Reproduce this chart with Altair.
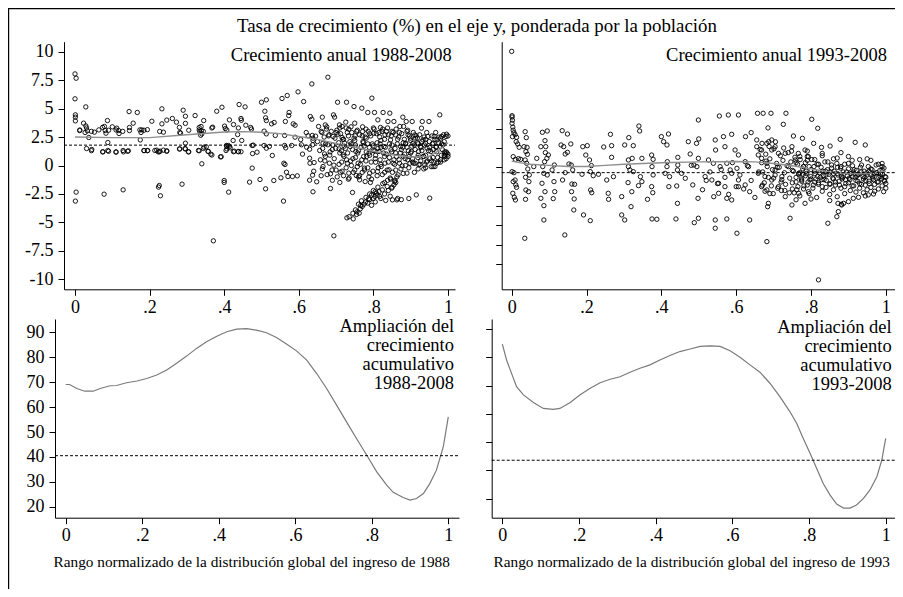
import altair as alt
import pandas as pd

FONT = "Liberation Serif"
W, H = 887, 581

main_title = "Tasa de crecimiento (%) en el eje y, ponderada por la población"
tl_title = "Crecimiento anual 1988-2008"
tr_title = "Crecimiento anual 1993-2008"
bl_title = ["Ampliación del", "crecimiento", "acumulativo", "1988-2008"]
br_title = ["Ampliación del", "crecimiento", "acumulativo", "1993-2008"]
bl_xtitle = "Rango normalizado de la distribución global del ingreso de 1988"
br_xtitle = "Rango normalizado de la distribución global del ingreso de 1993"

x_ticks = [0, 0.2, 0.4, 0.6, 0.8, 1]
top_y_ticks = [-10, -7.5, -5, -2.5, 0, 2.5, 5, 7.5, 10]
bl_y_ticks = [20, 30, 40, 50, 60, 70, 80, 90]
br_y_ticks = [30, 40, 50, 60, 70, 80, 90]

# mean (dashed) lines
tl_mean = 1.79
tr_mean = 1.81
bl_mean = 40.5
br_mean = 43.6

# ---- annual growth 1988-2008 (x = rank, y = growth %) ----
tl_points = [
    (0.0, 8.05), (0.003, 7.67), (0.0, 5.86), (0.001, 4.45), (0.001, 4.25), (0.001, 3.92), (0.003, -2.34), (0.001, -3.13),
    (0.0125, 3.07), (0.029, 5.15), (0.023, 3.72), (0.029, 3.48), (0.027, 2.9), (0.033, 3.05), (0.037, 2.46), (0.031, 1.49),
    (0.045, 1.41), (0.052, 2.93), (0.064, 3.13), (0.079, 3.43), (0.081, 3.07), (0.083, 2.84), (0.087, 3.95), (0.088, 2.02),
    (0.088, 1.32), (0.075, 1.2), (0.078, -2.52), (0.1, 3.4), (0.112, 3.28), (0.117, 3.07), (0.118, 2.81), (0.11, 1.17),
    (0.129, 1.32), (0.13, 1.2), (0.143, 1.29), (0.129, -2.14), (0.145, 4.74), (0.146, 3.34), (0.146, 3.07), (0.156, 3.72),
    (0.167, 4.66), (0.174, 3.13), (0.177, 2.9), (0.179, 3.13), (0.175, 2.25), (0.185, 1.32), (0.195, 1.32), (0.206, 3.89),
    (0.214, 1.32), (0.223, 1.2), (0.226, -1.76), (0.224, -1.9), (0.229, -2.66), (0.233, 4.98), (0.233, 3.66), (0.227, 2.99),
    (0.237, 2.93), (0.228, 1.26), (0.237, 1.35), (0.246, 1.29), (0.261, 4.13), (0.272, 3.81), (0.281, 2.9), (0.283, 2.84),
    (0.29, 4.86), (0.296, 4.33), (0.296, 1.96), (0.281, 1.46), (0.295, 1.49), (0.304, 1.2), (0.287, -1.64), (0.322, 4.39),
    (0.333, 3.34), (0.338, 3.43), (0.335, 2.96), (0.339, 3.05), (0.34, 2.78), (0.337, 2.66), (0.345, 3.95), (0.346, 1.61),
    (0.352, 1.64), (0.331, 1.32), (0.34, 0.15), (0.357, 1.23), (0.364, 1.0), (0.371, -6.62), (0.369, 3.37), (0.38, 4.77),
    (0.394, 5.12), (0.39, 0.76),
    (0.401, 3.46), (0.403, 3.25), (0.414, 4.01), (0.406, 1.76), (0.411, 1.76), (0.407, 1.46), (0.414, 1.67), (0.405, 1.32),
    (0.4, -1.32), (0.4, -1.49), (0.412, -2.34), (0.424, 2.2), (0.427, 1.26), (0.436, 2.72), (0.438, 1.23), (0.44, 5.36),
    (0.445, 4.13), (0.446, 3.98), (0.447, 2.2), (0.456, 5.15), (0.458, 3.54), (0.468, -1.46), (0.471, 3.34), (0.475, 1.76),
    (0.476, 1.05), (0.475, -0.23), (0.478, 1.79), (0.488, 1.17), (0.496, -1.23), (0.5, 5.56), (0.509, 4.77), (0.513, 5.77),
    (0.511, 4.19), (0.513, 3.95), (0.507, 3.02), (0.513, 2.78), (0.507, 1.76), (0.513, 1.52), (0.511, -2.05), (0.521, 1.67),
    (0.527, 3.66), (0.534, 3.78), (0.537, 2.64), (0.529, 0.88), (0.533, -1.32), (0.552, -1.08), (0.555, 5.89), (0.564, 3.87),
    (0.569, 6.15), (0.574, 4.66), (0.573, 4.39), (0.562, 2.64), (0.562, 1.76), (0.565, 1.55), (0.56, 0.2), (0.563, 0.09),
    (0.559, -3.13), (0.567, -0.59), (0.571, -0.97), (0.583, -0.97), (0.581, 1.76), (0.585, 3.66), (0.59, 3.54), (0.59, 2.49),
    (0.596, -0.91), (0.598, 6.47),
    (0.607, 1.82), (0.605, 2.28), (0.613, 5.62), (0.621, 1.61), (0.625, 2.61), (0.629, 1.43), (0.629, 0.64), (0.631, 4.3),
    (0.635, 4.07), (0.635, 7.17), (0.636, 2.64), (0.638, 2.4), (0.638, 2.2), (0.637, 1.82), (0.629, -1.29), (0.637, -0.85),
    (0.638, -2.31), (0.641, 0.26), (0.645, 2.58), (0.648, -1.43), (0.653, 3.43), (0.656, 1.32), (0.663, 4.25), (0.665, 1.96),
    (0.665, -0.09), (0.669, 1.02), (0.671, 3.57), (0.678, 7.76), (0.678, 1.82), (0.683, 0.91), (0.685, -0.73), (0.685, -2.02),
    (0.692, 2.55), (0.693, 4.45), (0.696, 4.25), (0.694, 0.03), (0.694, -6.18), (0.704, 5.56), (0.705, 2.75), (0.708, 1.46),
    (0.709, 3.57), (0.711, -0.59), (0.71, -1.49), (0.716, 3.43), (0.716, 2.46), (0.719, 0.94), (0.723, 1.96), (0.726, 3.81),
    (0.728, 5.56), (0.728, 0.5), (0.729, -4.6), (0.734, -0.67), (0.734, 3.19), (0.738, 1.67), (0.741, 0.0), (0.744, -2.37),
    (0.746, -4.69), (0.748, 5.18), (0.75, 3.72), (0.751, 2.61), (0.753, 1.23), (0.754, -0.88), (0.756, -4.07), (0.762, -4.19),
    (0.759, 0.2), (0.763, -1.26), (0.766, -3.51), (0.769, 5.04), (0.771, 2.99), (0.772, 2.11), (0.774, 0.79), (0.776, -0.23),
    (0.778, -1.41), (0.779, -3.22), (0.781, 2.4), (0.785, 4.66), (0.787, -2.93), (0.788, 1.08), (0.79, -0.67), (0.792, -1.49),
    (0.796, 5.92), (0.799, 1.73), (0.801, 2.84), (0.803, 4.66), (0.804, -2.72), (0.806, 0.29), (0.808, -2.43), (0.811, -0.53),
    (0.812, 4.01), (0.815, 1.23), (0.817, -2.72), (0.819, 3.34), (0.82, 2.2), (0.821, -0.09), (0.824, -2.14), (0.826, 4.66),
    (0.828, 1.67), (0.83, 0.79), (0.833, -3.07), (0.835, 2.99), (0.837, -1.84), (0.839, 3.87), (0.842, -0.38), (0.844, 4.6),
    (0.846, 2.25), (0.847, 1.38), (0.849, -1.99), (0.851, -3.02), (0.853, 0.2), (0.855, 3.87), (0.857, -1.41), (0.86, 2.69),
    (0.862, 0.79), (0.863, -3.02), (0.866, -0.82), (0.871, 3.43), (0.873, 1.67), (0.877, -0.03), (0.879, 4.25), (0.881, 3.43),
    (0.884, 1.0), (0.887, 1.96), (0.888, 3.87), (0.89, -0.67), (0.893, 2.69), (0.896, 0.79), (0.899, 2.4), (0.902, 1.23),
    (0.904, 3.87), (0.906, 1.96), (0.908, 0.2), (0.911, 2.69), (0.915, -2.58), (0.918, 2.4), (0.921, 1.23), (0.922, 0.06),
    (0.926, 1.67), (0.929, 3.28), (0.931, 3.87), (0.933, 2.25), (0.935, 0.79), (0.938, 0.06), (0.94, 1.96), (0.944, 1.52),
    (0.946, 2.55), (0.949, 3.87), (0.951, -2.87), (0.954, 1.23), (0.956, 0.41), (0.96, 1.96), (0.963, 2.55), (0.965, -0.09),
    (0.969, 1.67), (0.971, 2.25), (0.974, 0.29), (0.978, 4.45), (0.98, 1.67), (0.983, 2.55), (0.987, 1.82), (0.991, 0.79),
    (0.993, 1.02), (0.995, 2.55), (0.996, 2.75),
]
tl_points_extra = [
    (0.044, 1.3), (0.074, 1.2), (0.09, 1.25), (0.11, 1.2), (0.141, 1.25), (0.185, 1.3), (0.194, 1.3), (0.219, 1.35),
    (0.226, 1.2), (0.246, 1.25), (0.28, 1.45), (0.296, 1.45), (0.305, 1.2), (0.333, 1.3), (0.344, 1.5), (0.357, 1.25),
    (0.367, 0.92), (0.392, 0.77), (0.407, 1.7), (0.416, 1.55), (0.425, 1.21), (0.438, 1.21), (0.445, 1.21),
    (0.013, 3.12), (0.031, 3.3), (0.044, 3.0), (0.074, 3.35), (0.09, 3.1), (0.11, 3.12), (0.128, 3.0), (0.185, 3.1),
    (0.194, 3.15), (0.246, 3.99), (0.28, 3.35), (0.296, 3.7), (0.305, 3.1), (0.333, 3.12), (0.344, 3.0), (0.367, 3.3),
    (0.407, 3.12), (0.425, 3.6), (0.438, 3.3), (0.473, 3.2),
    (0.70, 2.9), (0.70, -0.4), (0.71, 1.1), (0.71, 3.3), (0.715, 0.3), (0.72, 2.3), (0.72, -0.9), (0.725, 1.5),
    (0.73, 0.2), (0.73, 2.9), (0.735, -1.1), (0.74, 1.9), (0.74, 3.4), (0.745, 0.6), (0.75, -0.4), (0.75, 2.2),
    (0.755, 3.0), (0.76, 1.3), (0.76, -1.0), (0.765, 0.1), (0.77, 2.6), (0.77, -0.6), (0.775, 1.7), (0.78, 3.2),
    (0.78, 0.4), (0.785, -0.2), (0.785, 1.9), (0.79, 2.8), (0.79, 0.9), (0.795, -1.2), (0.80, 1.3), (0.80, 3.3),
    (0.805, 0.6), (0.81, 2.0), (0.81, -0.9), (0.815, 2.9), (0.82, 0.1), (0.82, 1.6), (0.825, 3.2), (0.83, -0.6),
    (0.83, 2.3), (0.835, 1.0), (0.84, 0.3), (0.84, 2.7), (0.845, -1.1), (0.85, 1.8), (0.85, 3.0), (0.855, 0.5),
    (0.86, 1.1), (0.86, -0.4), (0.865, 2.3), (0.87, 0.2), (0.87, 2.9), (0.875, 1.4), (0.88, -0.7), (0.88, 2.0),
    (0.885, 0.6), (0.89, 1.6), (0.89, 3.0), (0.895, -0.2), (0.90, 1.1), (0.90, 2.2), (0.905, 0.3), (0.91, 1.8),
    (0.91, -0.6), (0.915, 2.6), (0.92, 0.9), (0.92, 1.9), (0.925, 0.1), (0.93, 1.3), (0.93, 2.1), (0.935, -0.3),
    (0.94, 0.9), (0.94, 2.3), (0.945, 0.4), (0.95, 1.6), (0.95, 2.1), (0.955, -0.1), (0.96, 0.7), (0.96, 1.4),
    (0.965, 2.3), (0.97, 0.2), (0.97, 1.2), (0.975, 2.0), (0.98, 0.5), (0.98, 2.4), (0.985, 1.4), (0.99, 0.9),
    (0.99, 2.1), (0.995, 1.2), (0.995, 0.6), (1.0, 1.0), (1.0, 2.6),
    (0.61, 1.0), (0.62, 2.9), (0.64, -0.5), (0.65, 2.1), (0.66, 3.0), (0.67, 0.4), (0.68, 2.6), (0.69, 1.4),
    (0.69, -1.3), (0.66, -0.9), (0.63, 0.2), (0.675, 3.4),
    (0.755, -4.3), (0.765, -3.8), (0.77, -3.6), (0.775, -3.4), (0.785, -3.3), (0.79, -3.0), (0.795, -3.5), (0.80, -2.9),
    (0.805, -3.2), (0.81, -2.6), (0.815, -2.3), (0.82, -2.9), (0.83, -2.5), (0.84, -2.2), (0.845, -2.7), (0.85, -1.9),
    (0.855, -1.7), (0.86, -1.5), (0.865, -2.9), (0.875, -3.0), (0.895, -2.9),
    (0.92, -0.3), (0.94, -0.2), (0.96, -0.1), (0.98, 0.3), (0.99, 0.5), (1.0, 0.8),
]
tl_points_dense = [
    (0.662, 2.9), (0.668, 2.5), (0.674, 3.2), (0.681, 2.7), (0.687, 3.0), (0.697, 2.4), (0.702, 3.1), (0.712, 2.8),
    (0.718, 2.3), (0.727, 3.3), (0.733, 2.6), (0.742, 2.9), (0.748, 2.4), (0.757, 3.1), (0.763, 2.7), (0.771, 3.4),
    (0.778, 2.5), (0.786, 3.0), (0.793, 2.6), (0.802, 3.2), (0.808, 2.8), (0.817, 2.5), (0.823, 3.0), (0.831, 2.7),
    (0.838, 3.3), (0.848, 2.6), (0.853, 2.9), (0.861, 3.2), (0.868, 2.5), (0.876, 2.8), (0.883, 2.3), (0.892, 3.1),
    (0.897, 2.6), (0.907, 2.9), (0.913, 2.4), (0.924, 2.7), (0.936, 2.5), (0.943, 2.9), (0.957, 2.6), (0.967, 2.9),
    (0.976, 2.5), (0.988, 2.7),
    (0.664, 1.5), (0.672, 1.9), (0.684, 1.2), (0.691, 1.8), (0.699, 1.5), (0.707, 2.0), (0.714, 1.3), (0.722, 1.7),
    (0.731, 1.1), (0.737, 2.1), (0.744, 1.4), (0.752, 1.8), (0.758, 1.1), (0.767, 1.6), (0.773, 2.0), (0.781, 1.2),
    (0.789, 1.6), (0.797, 1.9), (0.804, 1.3), (0.812, 1.5), (0.818, 1.9), (0.827, 1.1), (0.832, 1.6), (0.843, 1.9),
    (0.849, 1.2), (0.858, 1.5), (0.864, 1.9), (0.872, 1.1), (0.879, 1.6), (0.886, 1.9), (0.894, 1.3), (0.903, 1.7),
    (0.912, 1.4), (0.918, 2.0), (0.928, 1.6), (0.937, 1.8), (0.948, 1.3), (0.958, 1.9), (0.968, 1.6), (0.983, 1.9),
    (0.658, 0.5), (0.663, -0.3), (0.671, 0.8), (0.676, -0.8), (0.682, 0.2), (0.689, -0.4), (0.695, 0.6), (0.703, -1.0),
    (0.708, 0.1), (0.716, -0.5), (0.721, 0.8), (0.727, -0.2), (0.733, -1.2), (0.739, 0.4), (0.746, -0.6), (0.752, 0.7),
    (0.757, -0.1), (0.763, -0.9), (0.769, 0.5), (0.776, -0.4), (0.782, 0.8), (0.788, -1.0), (0.794, 0.3), (0.799, -0.5),
    (0.806, 0.9), (0.813, -0.2), (0.818, 0.5), (0.824, -0.8), (0.831, 0.2), (0.837, -0.4), (0.843, 0.7), (0.851, -0.6),
    (0.857, 0.1), (0.863, -1.0), (0.869, 0.5), (0.874, -0.3), (0.88, 0.8), (0.886, 0.0), (0.892, 0.5), (0.898, 0.2),
    (0.905, 0.6), (0.912, 0.2), (0.919, 0.7), (0.927, 0.4), (0.934, 0.8), (0.942, 0.3), (0.951, 0.6), (0.962, 0.3),
    (0.972, 0.7), (0.982, 0.9), (0.991, 1.2), (0.997, 1.1),
    (0.735, -4.5), (0.745, -4.2), (0.752, -3.9), (0.76, -3.4), (0.768, -3.1), (0.78, -2.8), (0.79, -2.5), (0.8, -2.2),
    (0.812, -1.9), (0.825, -1.6), (0.838, -1.3), (0.795, -2.6), (0.805, -2.3), (0.83, -1.5), (0.846, -1.2), (0.858, -1.3),
]

# ---- annual growth 1993-2008 ----
tr_points = [
    (0.0, 17.5), (0.001, 9.18), (0.001, 9.0), (0.002, 8.6), (0.001, 8.2), (0.003, 7.7), (0.004, 7.3), (0.006, 6.98),
    (0.002, 6.47), (0.009, 6.72), (0.013, 6.38), (0.012, 5.82), (0.016, 5.52), (0.02, 5.09), (0.004, 3.88), (0.01, 3.53),
    (0.018, 3.62), (0.024, 3.53), (0.001, 1.94), (0.006, 1.81), (0.009, 0.86), (0.004, 0.65), (0.011, 0.22), (0.013, -0.09),
    (0.003, -0.86), (0.007, -1.38), (0.01, -1.72), (0.035, -6.68), (0.036, 7.11), (0.039, 6.34), (0.033, 5.17), (0.038, 4.53),
    (0.041, 5.09), (0.042, 4.18), (0.036, 3.45), (0.04, 3.02), (0.043, 2.28), (0.047, 1.51), (0.037, 1.21), (0.046, 0.65),
    (0.038, -0.43), (0.045, -0.65), (0.037, -1.64), (0.067, 3.66), (0.059, 2.59), (0.078, 5.17), (0.082, 7.03), (0.095, 7.2),
    (0.089, 5.95), (0.091, 5.17), (0.09, 4.4), (0.094, 3.66), (0.088, 3.23), (0.083, 2.59), (0.098, 4.09), (0.086, 1.72),
    (0.095, 1.51), (0.081, 0.43), (0.089, -0.65), (0.078, -1.51), (0.086, -2.46), (0.086, -4.31), (0.114, 2.8), (0.108, 2.16),
    (0.113, 0.65), (0.115, -0.65), (0.111, -1.55), (0.135, 7.24), (0.149, 6.81), (0.132, 5.39), (0.139, 5.17), (0.149, 4.44),
    (0.158, 5.52), (0.143, 4.22), (0.153, 2.93), (0.159, 2.8), (0.163, 2.16), (0.143, 1.81), (0.136, 0.86), (0.161, 0.34),
    (0.168, 0.3), (0.16, -0.65), (0.167, -1.59), (0.166, -3.02), (0.142, -6.25), (0.19, 5.17), (0.202, 5.3), (0.198, 4.09),
    (0.208, 3.45), (0.213, 2.72), (0.21, 1.94), (0.188, 1.6), (0.218, 1.42), (0.211, -0.43), (0.214, -0.78), (0.192, -3.66),
    (0.21, -4.4), (0.232, 1.6), (0.246, 5.13), (0.264, 6.77), (0.267, 5.3), (0.267, 3.79), (0.254, 0.86), (0.258, -0.86),
    (0.259, -1.64), (0.272, 1.29), (0.294, -1.29), (0.294, -3.66), (0.302, -4.31), (0.302, 5.39), (0.313, 6.34), (0.325, 5.3),
    (0.312, 3.45), (0.322, 3.66), (0.312, 2.59), (0.316, 2.16), (0.325, 1.94), (0.311, 0.52), (0.321, -0.65), (0.319, -2.59),
    (0.34, 7.84), (0.342, 7.2), (0.348, 3.66), (0.344, 1.29), (0.348, 0.65), (0.339, 0.13), (0.363, -1.64), (0.374, 4.09),
    (0.378, 3.53), (0.375, 2.59), (0.378, 1.51), (0.374, 0.0), (0.377, -0.78), (0.375, -4.18), (0.388, -4.22), (0.4, 6.47),
    (0.406, 5.82), (0.419, 6.81), (0.415, 5.39), (0.416, 3.23), (0.415, 2.59), (0.41, 1.72), (0.422, 1.29), (0.42, 0.0),
    (0.444, 3.79), (0.443, 2.16), (0.444, 2.8), (0.441, 0.09), (0.443, -2.16), (0.439, -4.18), (0.454, 1.72), (0.464, 1.08),
    (0.472, 5.82), (0.477, 4.22), (0.48, 2.76), (0.484, 0.22), (0.487, 2.8), (0.488, -4.66), (0.498, -1.51), (0.495, 2.59),
    (0.499, 8.62), (0.494, 5.6), (0.499, 3.66),
    (0.555, 9.14), (0.579, 9.27), (0.606, 9.27), (0.657, 9.49), (0.672, 9.49), (0.693, 9.49), (0.733, 9.49), (0.726, 8.06),
    (0.802, 8.71), (0.818, 7.55), (0.685, 7.6), (0.5, 6.17), (0.544, 6.04), (0.566, 6.47), (0.588, 6.77), (0.625, 6.47),
    (0.64, 6.99), (0.655, 6.04), (0.687, 5.82), (0.695, 6.04), (0.753, 6.55), (0.777, 6.25), (0.807, 5.6), (0.828, 5.08),
    (0.851, 5.25), (0.878, 6.12), (0.918, 5.73), (0.945, 5.39), (0.545, 4.74), (0.57, 5.17), (0.597, 4.74), (0.606, 4.1),
    (0.526, 3.45), (0.539, 3.02), (0.557, 2.59), (0.575, 3.02), (0.584, 2.16), (0.602, 2.37), (0.624, 3.23), (0.633, 2.59),
    (0.517, 1.3), (0.535, 0.86), (0.553, 0.43), (0.57, 0.0), (0.588, 1.72), (0.606, 0.86), (0.624, 0.22), (0.553, -0.86),
    (0.575, -1.51), (0.588, -1.72), (0.636, -0.65), (0.606, 0.0), (0.499, -4.09), (0.544, -4.31), (0.575, -4.18),
    (0.544, -5.38), (0.602, -6.03), (0.636, -4.31), (0.682, -7.11), (0.82, -12.06), (0.655, 5.17), (0.668, 4.74),
    (0.682, 5.6), (0.695, 4.74), (0.659, 4.1), (0.668, 3.66), (0.682, 3.02), (0.704, 5.17), (0.713, 4.31), (0.659, 1.72),
    (0.677, 1.3), (0.695, 0.86), (0.668, 0.0), (0.682, -0.43), (0.704, 2.16), (0.722, 1.3), (0.713, 0.0), (0.686, -2.16),
    (0.684, -2.59), (0.731, -1.29), (0.749, -2.37), (0.744, -4.09), (0.731, 4.31), (0.749, 5.17), (0.758, 3.45),
    (0.74, 2.59), (0.767, 1.72), (0.784, 4.74), (0.793, 3.88), (0.78, 2.59), (0.775, 0.86), (0.793, -0.65), (0.767, -0.86),
    (0.784, -2.16), (0.845, -4.74), (0.869, -3.88), (0.873, -3.23), (0.882, -2.37), (0.887, -2.16), (0.9, -1.94),
    (0.913, -1.51), (0.927, -1.38), (0.945, -1.2), (0.953, -1.07), (0.967, -0.95), (0.994, -0.65), (0.872, -2.16),
    (0.881, -2.28),
]
tr_points_extra = [
    (0.75, 0.5), (0.75, 2.1), (0.755, -0.8), (0.76, 1.2), (0.76, 3.1), (0.765, 0.0), (0.77, 1.8), (0.77, -1.2),
    (0.775, 0.7), (0.78, 2.6), (0.78, -0.3), (0.785, 1.4), (0.79, 0.2), (0.79, 3.4), (0.795, -0.9), (0.8, 1.0),
    (0.8, 2.2), (0.805, -0.2), (0.81, 0.6), (0.81, 1.7), (0.815, -1.4), (0.82, 2.9), (0.82, 0.3), (0.825, 1.2),
    (0.83, -0.6), (0.83, 2.0), (0.835, 0.9), (0.84, -0.1), (0.84, 1.5), (0.845, 3.2), (0.85, 0.4), (0.85, -1.0),
    (0.855, 2.4), (0.86, 1.0), (0.86, -0.4), (0.865, 0.2), (0.87, 1.7), (0.87, -1.3), (0.875, 0.7), (0.88, 2.6),
    (0.88, -0.2), (0.885, 1.2), (0.89, 0.0), (0.89, -0.9), (0.895, 1.9), (0.9, 0.5), (0.9, 3.0), (0.905, -0.5),
    (0.91, 1.3), (0.91, 0.1), (0.915, 2.2), (0.92, -0.7), (0.92, 0.8), (0.925, 1.6), (0.93, -0.2), (0.93, 0.4),
    (0.935, 2.8), (0.94, 1.0), (0.94, -0.8), (0.945, 0.2), (0.95, 1.5), (0.95, -0.4), (0.955, 0.7), (0.96, 2.3),
    (0.96, -0.1), (0.965, 1.1), (0.97, 0.3), (0.97, -0.6), (0.975, 1.8), (0.98, 0.6), (0.98, -0.3), (0.985, 1.3),
    (0.99, 0.1), (0.99, 2.2), (0.995, 0.8), (1.0, 0.4), (1.0, 1.2), (1.0, -0.2), (0.86, 3.6), (0.9, 3.9),
    (0.88, 4.4), (0.93, 3.5), (0.96, 3.4), (0.98, 2.9), (0.99, 2.6), (0.83, 4.0), (0.81, 3.5), (0.77, 3.9),
    (0.79, 4.6), (0.85, -1.8), (0.8, -1.6), (0.76, -1.7), (0.73, -0.5), (0.72, 0.6), (0.71, 2.5), (0.70, 1.1),
    (0.69, -0.9), (0.68, 3.3), (0.67, 0.2), (0.66, 1.9), (0.65, -1.4), (0.64, 0.8), (0.63, 2.7), (0.62, -0.3),
    (0.61, 1.5), (0.6, 0.0), (0.59, 3.1), (0.58, -1.0), (0.57, 1.2), (0.56, 2.2), (0.55, 0.4), (0.54, -1.3),
    (0.53, 1.9), (0.52, 0.8), (0.51, -0.4),
]
tr_points_dense = [
    (0.664, 4.8), (0.668, 3.1), (0.671, 1.9), (0.675, 0.5), (0.679, 4.2), (0.683, 2.6), (0.686, 1.2), (0.69, 3.6),
    (0.694, 0.1), (0.697, 2.2), (0.701, 4.9), (0.704, 1.5), (0.708, 3.0), (0.711, -0.2), (0.715, 2.5), (0.718, 4.0),
    (0.722, 0.9), (0.725, 3.4), (0.729, 1.8), (0.732, 0.3), (0.736, 2.7), (0.739, 4.4), (0.743, 1.1), (0.746, 3.2),
    (0.75, -0.3), (0.753, 2.0), (0.757, 3.8), (0.76, 0.6), (0.764, 2.9), (0.767, 1.6), (0.771, 3.5), (0.669, 5.6),
    (0.688, 5.2), (0.705, 5.8), (0.727, 5.0), (0.748, 4.6), (0.766, 4.3), (0.677, -0.6), (0.699, -0.9), (0.721, -0.5),
    (0.742, -0.8), (0.762, -0.4),
    (0.774, 1.0), (0.778, 2.3), (0.781, 0.1), (0.785, 3.1), (0.788, 1.7), (0.792, 0.6), (0.795, 2.6), (0.799, 1.3),
    (0.802, 3.5), (0.806, 0.2), (0.809, 2.0), (0.813, 1.0), (0.816, 2.9), (0.82, 0.5), (0.823, 1.8), (0.827, 2.5),
    (0.83, 0.0), (0.834, 1.4), (0.837, 3.2), (0.841, 0.8), (0.844, 2.2), (0.848, 1.6), (0.851, 0.3), (0.855, 2.8),
    (0.858, 1.1), (0.862, 2.0), (0.865, 0.6), (0.869, 3.0), (0.872, 1.5), (0.876, 0.2), (0.879, 2.4), (0.883, 1.0),
    (0.886, 1.9), (0.89, 2.9), (0.893, 0.4), (0.897, 1.4), (0.9, 2.3), (0.904, 0.9), (0.907, 1.7), (0.911, 2.7),
    (0.914, 0.1), (0.918, 1.2), (0.921, 2.1), (0.925, 0.7), (0.928, 1.6), (0.932, 2.5), (0.935, 0.3), (0.939, 1.3),
    (0.942, 2.0), (0.946, 0.8), (0.949, 1.8), (0.953, 2.6), (0.956, 0.4), (0.96, 1.5), (0.963, 2.2), (0.967, 0.9),
    (0.97, 1.7), (0.974, 2.8), (0.977, 0.6), (0.981, 1.2), (0.984, 2.1), (0.988, 1.0), (0.991, 1.6), (0.995, 2.4),
    (0.998, 1.3), (0.779, 1.6), (0.797, 0.9), (0.818, 1.3), (0.839, 2.0), (0.86, 1.7), (0.881, 1.3), (0.902, 1.1),
    (0.923, 1.4), (0.944, 1.2), (0.965, 1.3), (0.986, 1.6), (0.787, 2.0), (0.808, 2.6), (0.829, 0.9), (0.85, 1.9),
    (0.871, 2.5), (0.892, 0.9), (0.913, 1.9), (0.934, 1.9), (0.955, 2.0), (0.976, 1.8), (0.997, 0.7),
    (0.79, 3.9), (0.83, 4.3), (0.87, 3.7), (0.91, 3.4), (0.95, 3.6), (0.99, 3.0),
]

# ---- smoothed (lowess) lines in the top panels ----
tl_smooth_x = [0, 0.1, 0.2, 0.3, 0.4, 0.45, 0.5, 0.55, 0.6, 0.65, 0.7, 0.75, 0.8, 0.85, 0.9, 0.95, 0.97, 1.0]
tl_smooth_y = [2.5, 2.45, 2.45, 2.7, 2.95, 2.98, 2.92, 2.8, 2.55, 2.3, 1.95, 1.6, 1.25, 0.95, 0.75, 0.8, 1.2, 2.0]
tr_smooth_x = [0, 0.02, 0.05, 0.1, 0.15, 0.2, 0.25, 0.3, 0.4, 0.5, 0.6, 0.65, 0.7, 0.75, 0.8, 0.85, 0.9, 0.95, 1.0]
tr_smooth_y = [3.3, 3.1, 2.9, 2.75, 2.6, 2.6, 2.75, 2.9, 3.1, 3.2, 3.25, 3.2, 3.0, 2.7, 2.3, 1.9, 1.7, 1.7, 2.0]

# ---- cumulative growth curves ----
bl_x = [0.0, 0.01, 0.029, 0.05, 0.072, 0.09, 0.116, 0.133, 0.159, 0.186, 0.212, 0.238, 0.264, 0.29, 0.316, 0.342,
        0.368, 0.395, 0.421, 0.447, 0.473, 0.499, 0.525, 0.551, 0.578, 0.604, 0.63, 0.656, 0.682, 0.708, 0.734, 0.76,
        0.787, 0.813, 0.839, 0.856, 0.882, 0.9, 0.917, 0.935, 0.952, 0.969, 0.987, 1.0]
bl_y = [69.1, 69.1, 67.5, 66.4, 66.4, 67.5, 68.6, 68.7, 69.8, 70.5, 71.5, 72.9, 74.9, 77.6, 80.5, 83.6,
        86.3, 88.5, 90.3, 91.3, 91.5, 90.9, 89.9, 88.0, 85.3, 82.5, 78.9, 73.5, 67.5, 60.8, 54.1, 47.4,
        40.7, 34.0, 28.7, 25.8, 23.7, 22.7, 23.3, 25.3, 29.4, 34.7, 44.1, 56.1]
br_x = [0.0, 0.011, 0.024, 0.037, 0.055, 0.081, 0.107, 0.133, 0.15, 0.177, 0.203, 0.229, 0.255, 0.281, 0.307, 0.333,
        0.359, 0.385, 0.411, 0.437, 0.463, 0.49, 0.516, 0.542, 0.568, 0.594, 0.62, 0.646, 0.672, 0.698, 0.724, 0.75,
        0.768, 0.785, 0.803, 0.82, 0.837, 0.855, 0.872, 0.89, 0.907, 0.924, 0.942, 0.959, 0.977, 0.99, 1.0]
br_y = [84.6, 79.0, 74.3, 69.6, 66.7, 64.0, 61.9, 61.6, 61.9, 64.0, 66.7, 69.0, 71.0, 72.2, 73.1, 74.7,
        76.1, 77.3, 79.0, 80.6, 82.0, 82.9, 83.8, 84.0, 83.8, 82.3, 80.0, 77.3, 74.7, 70.8, 66.1, 60.8,
        56.6, 51.3, 46.0, 40.7, 35.4, 31.3, 28.1, 26.7, 26.7, 27.8, 30.1, 33.1, 37.8, 43.7, 51.3]


def axis_x(offset, title=None, title_x=None):
    kw = dict(orient="bottom", offset=offset, values=x_ticks,
              labelExpr="replace('' + datum.value, '0.', '.')",
              tickSize=6, tickWidth=1, tickColor="black", domainColor="black", domainWidth=1,
              labelFont=FONT, labelFontSize=18, labelColor="black", labelPadding=3,
              labelFlush=False, labelOverlap=False, grid=False)
    if title is None:
        kw["title"] = None
    else:
        kw.update(title=title, titleFont=FONT, titleFontSize=15.3, titleFontWeight="normal",
                  titleColor="black", titleX=title_x, titleY=49, titleAlign="left",
                  titleBaseline="alphabetic", titleAngle=0)
    return alt.Axis(**kw)


def axis_y(offset, ticks, labels):
    return alt.Axis(orient="left", offset=offset, values=ticks, labels=labels,
                    labelExpr="'' + datum.value", tickSize=6, tickWidth=1, tickColor="black",
                    domainColor="black", domainWidth=1, labelFont=FONT, labelFontSize=18,
                    labelColor="black", labelPadding=5, labelFlush=False, labelOverlap=False,
                    grid=False, title=None)


def panel(points, curve, mean, xdom, ydom, xrng, yrng, xa, ya, title_text, title_xy, curve_color, curve_width):
    xs = alt.Scale(domain=xdom, range=xrng, nice=False, zero=False)
    ys = alt.Scale(domain=ydom, range=yrng, nice=False, zero=False)
    X = lambda f: alt.X(f, type="quantitative", scale=xs, axis=xa)
    Y = lambda f: alt.Y(f, type="quantitative", scale=ys, axis=ya)
    layers = []
    if points is not None:
        layers.append(alt.Chart(points).mark_point(shape="circle", filled=False, size=19, strokeWidth=0.9,
                                                   color="black", opacity=1).encode(x=X("x"), y=Y("y")))
    layers.append(alt.Chart(curve).mark_line(color=curve_color, strokeWidth=curve_width).encode(x=X("x"), y=Y("y")))
    layers.append(
        alt.Chart(pd.DataFrame({"m": [mean]})).mark_rule(color="black", strokeWidth=1, strokeDash=[3, 2]).encode(
            x=alt.X(datum=xdom[0], type="quantitative", scale=xs, axis=xa),
            x2=alt.X2(datum=xdom[1]),
            y=Y("m"),
        )
    )
    layers.append(
        alt.Chart(pd.DataFrame({"x": [title_xy[0]], "y": [title_xy[1]]})).mark_text(
            text=title_text, align="right", baseline="alphabetic", font=FONT, fontSize=18.5,
            lineHeight=19, color="black").encode(x=X("x"), y=Y("y"))
    )
    return alt.layer(*layers)


def pts_df(*lists):
    rows = [p for lst in lists for p in lst]
    return pd.DataFrame({"x": [r[0] for r in rows], "y": [r[1] for r in rows]})


tl = panel(pts_df(tl_points, tl_points_extra, tl_points_dense), pd.DataFrame({"x": tl_smooth_x, "y": tl_smooth_y}),
           tl_mean, [-0.0295, 1.0188], [-10.88, 10.88], [56, 447], [281.3, 33.7],
           axis_x(281.3 - H), axis_y(-56, top_y_ticks, True), tl_title, (1.01, 9.2), "#8f8f8f", 1.4)
tr = panel(pts_df(tr_points, tr_points_extra, tr_points_dense), pd.DataFrame({"x": tr_smooth_x, "y": tr_smooth_y}),
           tr_mean, [-0.0267, 1.029], [-13.28, 18.75], [493.7, 888.7], [281.3, 33.7],
           axis_x(281.3 - H), axis_y(-493.7, top_y_ticks, False), tr_title, (1.003, 16.3), "#8f8f8f", 1.4)
bl = panel(None, pd.DataFrame({"x": bl_x, "y": bl_y}), bl_mean,
           [-0.028, 1.028], [15.6, 95.4], [47, 451], [509.7, 311],
           axis_x(509.7 - H, bl_xtitle, 45), axis_y(-47, bl_y_ticks, True), bl_title, (1.015, 90.2), "#7a7a7a", 1.2)
br = panel(None, pd.DataFrame({"x": br_x, "y": br_y}), br_mean,
           [-0.0278, 1.0243], [23.3, 93.5], [483.7, 887], [509.7, 311],
           axis_x(509.7 - H, br_xtitle, 485), axis_y(-483.7, br_y_ticks, False), br_title, (1.0157, 88.5), "#7a7a7a", 1.2)

frame = alt.Chart(pd.DataFrame({"a": [0]})).mark_rect(fillOpacity=0, stroke="black", strokeWidth=1.2).encode(
    x=alt.value(0.6), x2=alt.value(1200), y=alt.value(0.6), y2=alt.value(1200))
title = alt.Chart(pd.DataFrame({"t": [main_title]})).mark_text(
    align="center", baseline="alphabetic", font=FONT, fontSize=18.9, color="black").encode(
    text="t:N", x=alt.value(469), y=alt.value(24))

chart = alt.layer(frame, tl, tr, bl, br, title).resolve_scale(
    x="independent", y="independent").resolve_axis(x="independent", y="independent").properties(
    width=W, height=H, autosize=alt.AutoSizeParams(type="none"), padding=0, background="white"
).configure_view(stroke=None)

chart.save("out.html", embed_options={"renderer": "svg", "actions": False})
